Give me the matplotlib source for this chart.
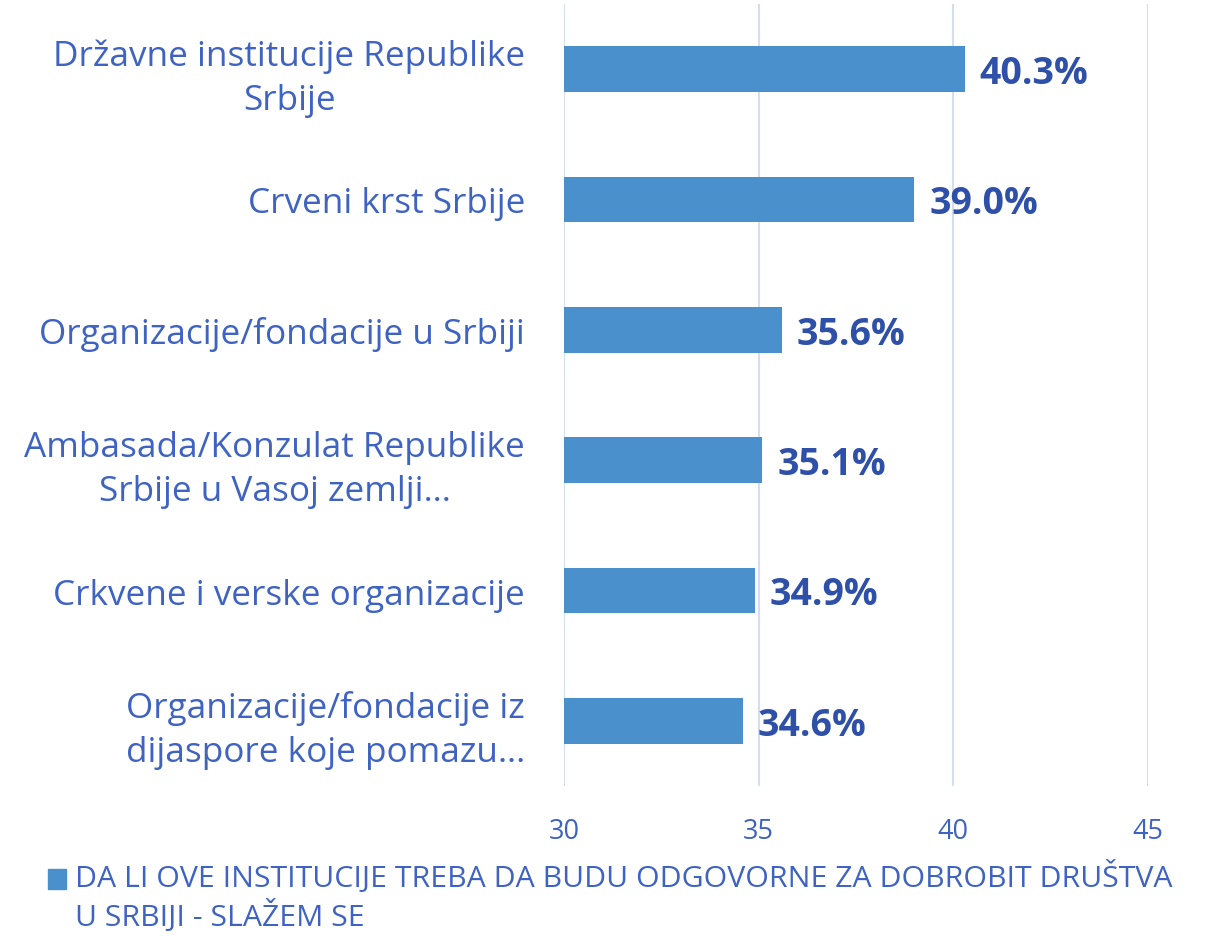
import matplotlib.pyplot as plt
from matplotlib.patches import Rectangle

plt.rcParams['font.family'] = ['Open Sans', 'DejaVu Sans']

# podaci
institucije = [
    'Državne institucije Republike\nSrbije',
    'Crveni krst Srbije',
    'Organizacije/fondacije u Srbiji',
    'Ambasada/Konzulat Republike\nSrbije u Vasoj zemlji…',
    'Crkvene i verske organizacije',
    'Organizacije/fondacije iz\ndijaspore koje pomazu…',
]
slazem_se = [40.3, 39.0, 35.6, 35.1, 34.9, 34.6]
x_ticks = [30, 35, 40, 45]
legenda = 'DA LI OVE INSTITUCIJE TREBA DA BUDU ODGOVORNE ZA DOBROBIT DRUŠTVA\nU SRBIJI - SLAŽEM SE'

bar_kleur = '#4A90CD'
tekst_kleur = '#3F63C3'
label_kleur = '#2F50A8'

fig = plt.figure(figsize=(12.25, 9.37), dpi=100)
ax = fig.add_axes([0.4604, 0.160, 0.937 - 0.4604, 0.8347])

pos = list(range(len(institucije)))
bars = ax.barh(pos, slazem_se, height=0.35, color=bar_kleur, left=0)
ax.set_xlim(30, 45)
ax.set_ylim(len(institucije) - 0.5, -0.5)
ax.set_xticks(x_ticks)
ax.set_xticklabels([str(t) for t in x_ticks], fontsize=19.5, color=tekst_kleur)
ax.set_yticks(pos)
ax.set_yticklabels(institucije, fontsize=25.3, color=tekst_kleur,
                   multialignment='center', linespacing=1.38)
ax.tick_params(axis='both', length=0)
ax.tick_params(axis='y', pad=28)
ax.tick_params(axis='x', pad=22)
for s in ax.spines.values():
    s.set_visible(False)
ax.grid(axis='x', color='#D5DDF0', linewidth=1.5)
ax.set_axisbelow(True)

for b, v in zip(bars, slazem_se):
    ax.text(v + 0.38, b.get_y() + b.get_height() / 2 + 0.03, f'{v:.1f}%',
            va='center', ha='left', fontsize=27, fontweight='bold', color=label_kleur)

# legenda
fig.patches.append(Rectangle((48 / 1225, 1 - 890 / 937), 18 / 1225, 20 / 937,
                             transform=fig.transFigure, color=bar_kleur))
fig.text(75 / 1225, 1 - 861 / 937, legenda, fontsize=21.8, color=tekst_kleur,
         va='top', ha='left', linespacing=1.22)

fig.savefig('out.png', dpi=100)
